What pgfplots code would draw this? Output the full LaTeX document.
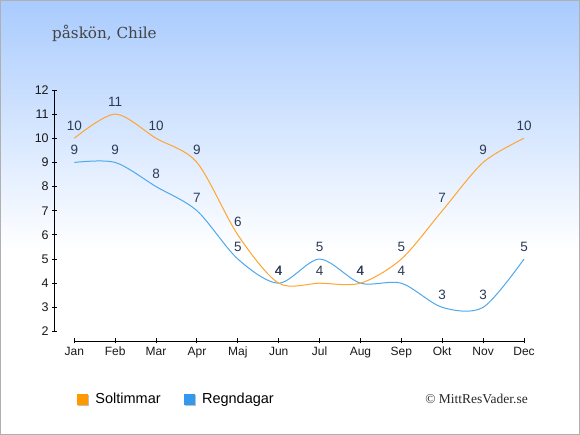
\documentclass[border=0pt]{standalone}
\usepackage{pgfplots}
\pgfplotsset{compat=1.18}
\usepackage{fontspec}
\setmainfont{Liberation Sans}
\newfontfamily\titlefont{DejaVu Serif}
\newfontfamily\wmfont{Liberation Serif}
\definecolor{solc}{HTML}{FFA530}
\definecolor{regc}{HTML}{4FA8EE}
\definecolor{solleg}{HTML}{FF9900}
\definecolor{regleg}{HTML}{3399EE}
\definecolor{lblc}{HTML}{2B3A55}
\definecolor{topc}{HTML}{A9CBFE}
\definecolor{bordc}{HTML}{B0B0B0}
\definecolor{titc}{HTML}{444444}
\begin{document}
\begin{tikzpicture}[x=1pt,y=1pt]
\fill[white] (0,0) rectangle (580,435);
\shade[top color=topc, bottom color=white] (0,185) rectangle (580,435);
\draw[bordc, line width=1pt] (0.5,0.5) rectangle (579.5,434.5);
\node[anchor=base west, inner sep=0pt, text=titc, font=\titlefont\fontsize{15.2}{18}\selectfont] at (52,396) {påskön, Chile};
\node[anchor=base east, inner sep=0pt, text=black!85, font=\wmfont\fontsize{13.5}{16}\selectfont] at (528,31.5) {© MittResVader.se};
\begin{axis}[
  at={(74.3pt,103.5pt)}, anchor=south west,
  scale only axis, width=449.7pt, height=241.5pt,
  xmin=0, xmax=11, ymin=2, ymax=12,
  axis lines=left, axis line style={-, black, line width=0.9pt},
  axis x line shift=9.5pt, axis y line shift=19.6pt,
  xtick={0,...,11},
  xticklabels={Jan,Feb,Mar,Apr,Maj,Jun,Jul,Aug,Sep,Okt,Nov,Dec},
  ytick={2,...,12},
  tick align=center, major tick length=5pt,
  tick style={black, line width=0.9pt},
  ticklabel style={font=\fontsize{12.5}{14}\selectfont, text=black!90},
  xticklabel style={font=\fontsize{12}{14}\selectfont},
  /pgf/number format/assume math mode=true,
  clip=false,
  legend style={at={(rel axis cs:0.006,-0.2795)}, anchor=west, draw=none, fill=none,
    font=\fontsize{14.5}{16}\selectfont, inner sep=0pt, outer sep=0pt,
    /tikz/every odd column/.append style={column sep=5pt},
    /tikz/every even column/.append style={column sep=21pt}},
  legend columns=2,
]
\addlegendimage{legend image code/.code={\fill[black!25] (1pt,-6pt) rectangle (11pt,4pt); \fill[solleg] (0pt,-5pt) rectangle (10pt,5pt);}}
\addlegendentry{Soltimmar}
\addlegendimage{legend image code/.code={\fill[black!25] (1pt,-6pt) rectangle (11pt,4pt); \fill[regleg] (0pt,-5pt) rectangle (10pt,5pt);}}
\addlegendentry{Regndagar}
\addplot[regc, line width=1pt, smooth, forget plot,
  nodes near coords, every node near coord/.style={anchor=base, yshift=8pt, inner sep=0pt, text=lblc, font=\fontsize{13.5}{15}\selectfont}]
  coordinates {(0,9) (1,9) (2,8) (3,7) (4,5) (5,4) (6,5) (7,4) (8,4) (9,3) (10,3) (11,5)};
\addplot[solc, line width=1pt, smooth, forget plot,
  nodes near coords, every node near coord/.style={anchor=base, yshift=8pt, inner sep=0pt, text=lblc, font=\fontsize{13.5}{15}\selectfont}]
  coordinates {(0,10) (1,11) (2,10) (3,9) (4,6) (5,4) (6,4) (7,4) (8,5) (9,7) (10,9) (11,10)};
\end{axis}
\end{tikzpicture}
\end{document}
